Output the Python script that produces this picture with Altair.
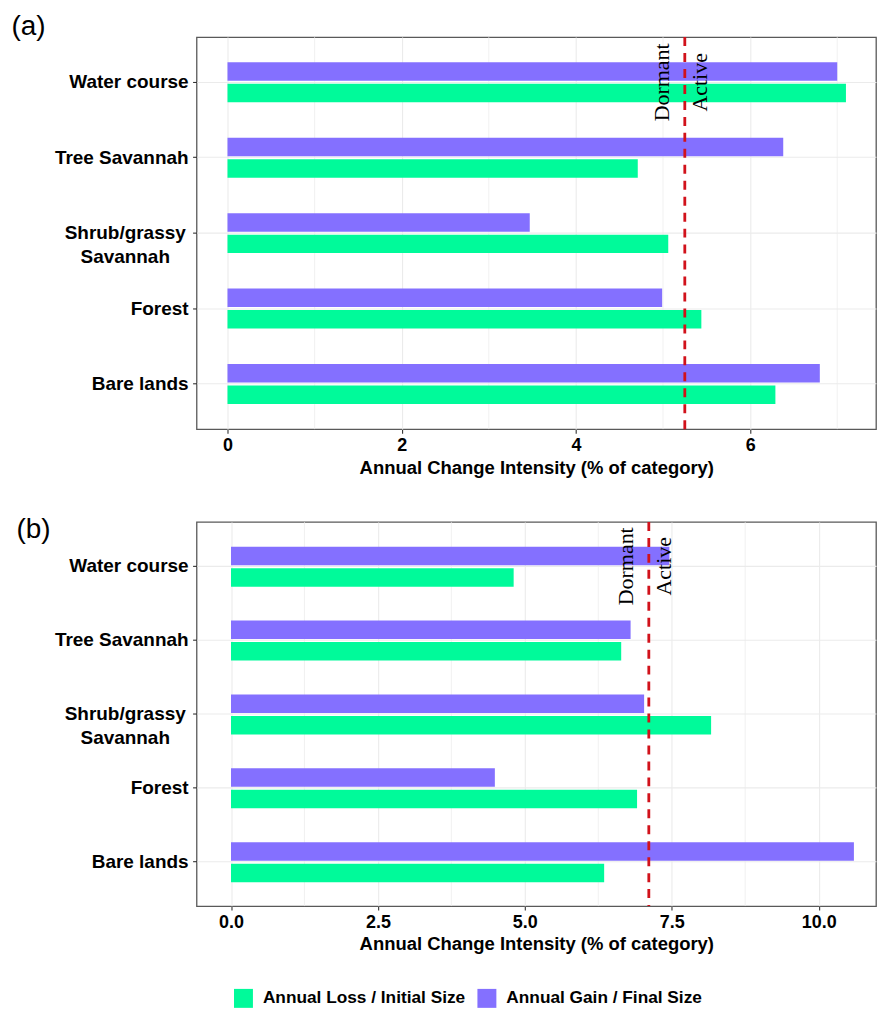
import altair as alt
import pandas as pd

# ---------------- data ----------------
categories = ["Water course", "Tree Savannah", "Shrub/grassy Savannah", "Forest", "Bare lands"]
series = ["Annual Loss / Initial Size", "Annual Gain / Final Size"]

loss_a = [7.10, 4.71, 5.06, 5.44, 6.29]
gain_a = [7.00, 6.38, 3.47, 4.99, 6.80]
uniform_a = 5.25

loss_b = [4.81, 6.64, 8.17, 6.91, 6.35]
gain_b = [7.46, 6.80, 7.03, 4.49, 10.60]
uniform_b = 7.11

ticks_a = [0, 2, 4, 6]
minor_a = [1, 3, 5, 7]
domain_a = [-0.355, 7.445]

ticks_b = [0, 2.5, 5, 7.5, 10]
minor_b = [1.25, 3.75, 6.25, 8.75]
domain_b = [-0.586, 10.976]

zone_labels = ["Dormant", "Active"]
x_title = "Annual Change Intensity (% of category)"

# ---------------- style ----------------
GREEN = "#00FA9A"
PURPLE = "#8470FF"
RED = "#D1121B"
GRID = "#EBEBEB"
SANS = "Liberation Sans"
SERIF = "Liberation Serif"
EXTENT = 187.5


def panel(loss, gain, uniform, ticks, minor, domain, fmt, title, title_dx, title_dy,
          width, height):
    df = pd.DataFrame({
        "category": categories * 2,
        "series": [series[0]] * len(categories) + [series[1]] * len(categories),
        "value": loss + gain,
    })
    xscale = alt.Scale(domain=domain, nice=False, zero=False)
    yscale = alt.Scale(domain=categories, paddingInner=0.47, paddingOuter=0.335)

    xaxis = alt.Axis(
        values=ticks, format=fmt, title=x_title, grid=True, gridColor=GRID, gridWidth=1.1,
        domain=False, tickColor="#333333", tickSize=4, tickWidth=1.1,
        labelFont=SANS, labelFontSize=18, labelFontWeight="bold", labelColor="black",
        labelPadding=3, labelFlush=False,
        titleFont=SANS, titleFontSize=18.5, titleFontWeight="bold", titleColor="black",
        titlePadding=4,
    )
    yaxis = alt.Axis(
        title=None, grid=True, gridColor=GRID, gridWidth=1.1, domain=False,
        tickColor="#333333", tickSize=4, tickWidth=1.1, bandPosition=0.5,
        labelFont=SANS, labelFontSize=19, labelFontWeight="bold", labelColor="black",
        labelExpr="datum.label == 'Shrub/grassy Savannah' ? ['Shrub/grassy', 'Savannah'] : datum.label",
        labelLineHeight=24, labelLimit=300,
        labelAlign={"condition": {"test": "datum.value == 'Shrub/grassy Savannah'", "value": "center"},
                    "value": "right"},
        labelPadding={"condition": {"test": "datum.value == 'Shrub/grassy Savannah'", "value": 68},
                      "value": 4.5},
        minExtent=EXTENT, maxExtent=EXTENT,
    )

    minor_grid = alt.Chart(pd.DataFrame({"m": minor})).mark_rule(
        color=GRID, strokeWidth=0.7
    ).encode(x=alt.X("m:Q", scale=xscale, axis=xaxis))

    bars = alt.Chart(df).mark_bar().encode(
        x=alt.X("value:Q", scale=xscale, axis=xaxis),
        x2=alt.datum(0),
        y=alt.Y("category:N", sort=categories, scale=yscale, axis=yaxis),
        yOffset=alt.YOffset("series:N", scale=alt.Scale(domain=[series[1], series[0]],
                                                          paddingInner=0.14, paddingOuter=0)),
        color=alt.Color("series:N", scale=alt.Scale(domain=series, range=[GREEN, PURPLE]),
                        legend=alt.Legend(
                            title=None, orient="none", direction="horizontal",
                            legendX=37.5, legendY=954, padding=0,
                            symbolType="square", symbolSize=361, symbolStrokeWidth=0,
                            symbolOpacity=1, labelFont=SANS, labelFontSize=17.3,
                            labelFontWeight="bold", labelColor="black", labelOffset=10,
                            columnPadding=12, labelLimit=400,
                        )),
    )

    rule = alt.Chart(pd.DataFrame({"u": [uniform]})).mark_rule(
        color=RED, strokeDash=[9, 7], strokeWidth=2.8
    ).encode(x=alt.X("u:Q", scale=xscale, axis=xaxis))

    def zone_text(label, dy):
        return alt.Chart(pd.DataFrame({"t": [label], "u": [uniform], "c": [categories[0]]})).mark_text(
            angle=270, font=SERIF, fontSize=22, align="center", baseline="alphabetic",
            dy=dy, color="black"
        ).encode(
            x=alt.X("u:Q", scale=xscale, axis=xaxis),
            y=alt.Y("c:N", sort=categories, scale=yscale, axis=yaxis),
            text="t:N",
        )

    return alt.layer(
        minor_grid, bars, rule, zone_text(zone_labels[0], -16), zone_text(zone_labels[1], 22)
    ).properties(
        width=width, height=height,
        title=alt.TitleParams(text=title, anchor="start", frame="group", font=SANS,
                              fontSize=28, fontWeight="normal", color="black",
                              dx=title_dx, dy=title_dy, baseline="alphabetic", offset=0),
    )


pa = panel(loss_a, gain_a, uniform_a, ticks_a, minor_a, domain_a, "d", "(a)",
           -EXTENT + 2, 27, 681, 393)
pb = panel(loss_b, gain_b, uniform_b, ticks_b, minor_b, domain_b, ".1f", "(b)",
           -EXTENT + 7, 45, 681, 385)

chart = alt.vconcat(pa, pb, spacing=36).properties(
    padding={"left": 0, "top": 2, "right": 0, "bottom": 0},
    background="white",
).configure_view(
    stroke="#595959", strokeWidth=1.3
)

chart.save("out.html", embed_options={"renderer": "svg", "actions": False})
